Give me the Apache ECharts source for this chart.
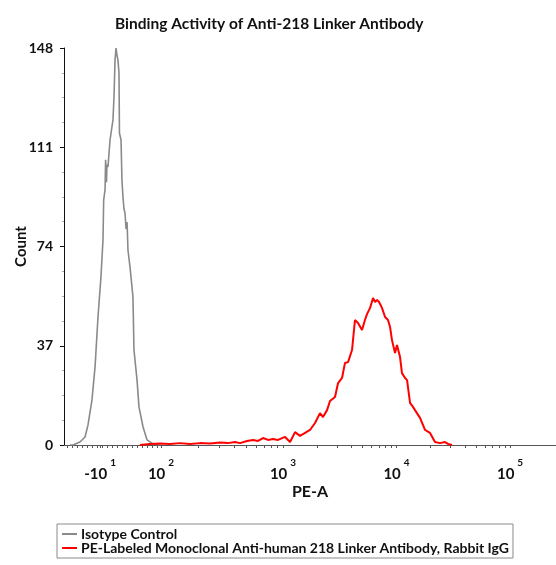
<!DOCTYPE html>
<html>
<head>
<meta charset="utf-8">
<script src="https://cdn.jsdelivr.net/npm/echarts@6/dist/echarts.min.js"></script>
<style>html,body{margin:0;padding:0;background:#fff}#c{width:556px;height:565px}</style>
</head>
<body>
<div id="c"></div>
<script>
// x positions are in display (biexponential decade) units of the PE-A axis
const grayPos = [1.123,1.150,1.211,1.256,1.282,1.317,1.344,1.370,1.396,1.414,1.420,1.432,1.437,1.445,1.449,1.458,1.476,1.502,1.511,1.520,1.529,1.537,1.546,1.555,1.559,1.573,1.581,1.590,1.599,1.608,1.617,1.626,1.634,1.652,1.678,1.687,1.714,1.731,1.767,1.802,1.855,1.916];
const grayCount = [0,0,1.1,3.0,7.5,16.8,29.1,47.7,62.6,76.4,91.3,95.1,106.3,98.0,104.5,103.7,113.7,121.2,129.8,143.5,148,145.4,143.5,138.7,116.3,113.7,98.8,92.5,88.0,86.5,80.5,83.1,72.7,66.4,55.2,35.4,24.2,14.2,6.7,1.9,0.4,0];

const redPos = [1.740,1.828,1.916,2.004,2.093,2.181,2.269,2.357,2.445,2.515,2.577,2.621,2.683,2.736,2.780,2.824,2.868,2.912,2.956,3.018,3.062,3.106,3.150,3.194,3.238,3.282,3.326,3.352,3.388,3.414,3.458,3.485,3.520,3.546,3.573,3.608,3.634,3.661,3.696,3.722,3.740,3.767,3.793,3.811,3.828,3.846,3.872,3.899,3.925,3.943,3.960,3.987,4.004,4.031,4.048,4.075,4.093,4.119,4.145,4.163,4.207,4.251,4.295,4.339,4.383,4.427,4.454,4.489];
const redCount = [0,0.4,0.6,0.4,0.7,0.4,0.7,0.6,0.9,0.7,1.1,0.7,1.5,1.9,1.5,2.6,1.9,2.2,1.9,3.0,1.1,4.8,3.4,4.5,5.6,8.2,11.9,10.4,13.0,16.4,17.9,23.1,25.0,30.6,30.9,35.4,46.6,45.5,42.9,46.6,48.8,51.1,54.8,53.3,54.1,53.3,51.1,47.7,46.6,44.0,39.1,34.3,37.3,32.8,26.8,25.0,24.2,15.7,14.2,13.0,10.1,5.6,4.5,1.1,0.7,1.1,0.4,0];

const xTickPos = [1.388,1.925,3,4,5];
const xTickBase = ['-10','10','10','10','10'];
const xTickExp = ['1','2','3','4','5'];
const yTicks = [0,37,74,111,148];

const seriesNames = ['Isotype Control','PE-Labeled Monoclonal Anti-human 218 Linker Antibody, Rabbit IgG'];

// minor tick positions along the axis (linear region, then log minors)
const minorTicks = [];
for (let v = 1.10; v < 1.90; v += 0.044) minorTicks.push(+v.toFixed(3));
for (let m = 2; m <= 9; m++) minorTicks.push(+(1.925 + 1.075 * Math.log10(m)).toFixed(3));
for (let k = 3; k <= 4; k++) for (let m = 2; m <= 9; m++) minorTicks.push(+(k + Math.log10(m)).toFixed(3));
const allTicks = xTickPos.concat(minorTicks).sort((a,b)=>a-b);

const pairs = (xs, ys) => xs.map((x,i)=>[x, ys[i]]);
const F = 'Lato, "Open Sans", sans-serif';

const chart = echarts.init(document.getElementById('c'));
chart.setOption({
  animation: false,
  backgroundColor: '#fff',
  title: {
    text: 'Binding Activity of Anti-218 Linker Antibody',
    left: 110, top: 11,
    textStyle: {fontFamily: F, fontSize: 15.5, fontWeight: 'bold', color: '#111'}
  },
  grid: {left: 64, right: 0, top: 48, bottom: 120},
  legend: {
    orient: 'vertical', left: 57, top: 524,
    icon: 'rect', itemWidth: 15, itemHeight: 2, itemGap: 0,
    padding: [3, 4, 3, 5],
    borderColor: '#8a8a8a', borderWidth: 1,
    textStyle: {fontFamily: F, fontSize: 14, lineHeight: 12, color: '#111', fontWeight: 'bold', padding: [0, 0, 0, -1]},
    data: seriesNames
  },
  xAxis: {
    type: 'value', min: 1.0705, max: 5.405,
    name: 'PE-A', nameLocation: 'middle', nameGap: 39, nameMoveOverlap: false,
    nameTextStyle: {fontFamily: F, fontSize: 16, fontWeight: 'bold', color: '#111'},
    splitLine: {show: false},
    axisLine: {show: true, onZero: false, lineStyle: {color: '#555', width: 1.2}},
    axisTick: {show: true, length: 3, customValues: allTicks, lineStyle: {color: '#555'}},
    axisLabel: {
      customValues: xTickPos, margin: 13,
      formatter: function (v) {
        let i = xTickPos.findIndex(p => Math.abs(p - v) < 1e-6);
        if (i < 0) return '';
        return '{b|' + xTickBase[i] + '}{s|' + xTickExp[i] + '}';
      },
      rich: {
        b: {fontFamily: F, fontSize: 15, fontWeight: 'bold', color: '#111', verticalAlign: 'bottom'},
        s: {fontFamily: F, fontSize: 10, fontWeight: 'bold', color: '#111', padding: [0, 0, 14, 3], verticalAlign: 'bottom'}
      }
    }
  },
  yAxis: {
    type: 'value', min: 0, max: 148, interval: 37,
    name: 'Count', nameLocation: 'middle', nameGap: 35, nameMoveOverlap: false,
    nameTextStyle: {fontFamily: F, fontSize: 15, fontWeight: 'bold', color: '#111'},
    splitLine: {show: false},
    axisLine: {show: true, lineStyle: {color: '#111', width: 1}},
    axisTick: {show: true, length: 4, lineStyle: {color: '#111'}},
    minorTick: {show: true, splitNumber: 4, length: 2, lineStyle: {color: '#aaa'}},
    axisLabel: {
      customValues: yTicks,
      fontFamily: F, fontSize: 14, fontWeight: 'bold', color: '#111', margin: 11
    }
  },
  series: [
    {
      name: seriesNames[0], type: 'line', symbol: 'none',
      data: pairs(grayPos, grayCount),
      lineStyle: {color: '#8a8a8a', width: 1.6}, itemStyle: {color: '#8a8a8a'}
    },
    {
      name: seriesNames[1], type: 'line', symbol: 'none',
      data: pairs(redPos, redCount),
      lineStyle: {color: '#ff0000', width: 2}, itemStyle: {color: '#ff0000'}
    }
  ]
});
</script>
</body>
</html>
